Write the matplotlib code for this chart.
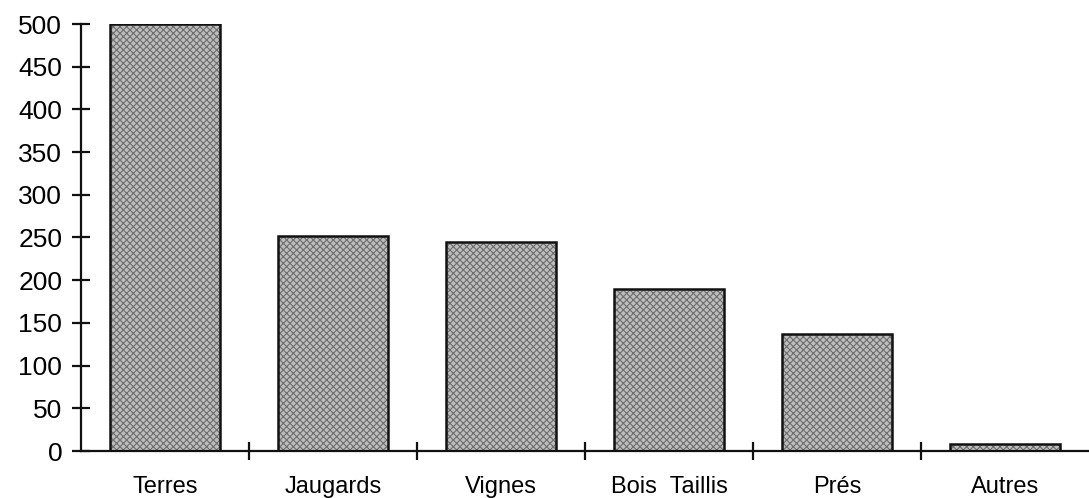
import numpy as np
import matplotlib.pyplot as plt

# surface par nature de culture
categories = ["Terres", "Jaugards", "Vignes", "Bois  Taillis", "Prés", "Autres"]
surfaces = [500, 252, 245, 190, 137, 8]
yticks = [0, 50, 100, 150, 200, 250, 300, 350, 400, 450, 500]

plt.rcParams['font.family'] = ['Liberation Sans', 'DejaVu Sans']
plt.rcParams['hatch.linewidth'] = 0.8

fig = plt.figure(figsize=(10.89, 4.98), dpi=100)
ax = fig.add_axes([81 / 1089, 1 - 451 / 498, 1 - 81 / 1089, (451 - 24) / 498])

x = np.arange(len(categories))
# tramage gris puis contour noir par-dessus
ax.bar(x, surfaces, width=0.65, color='#bdbdbd', edgecolor='#6e6e6e',
       linewidth=0, hatch='xxxxx', zorder=2)
ax.bar(x, surfaces, width=0.65, fill=False, edgecolor='#111111',
       linewidth=1.8, zorder=3)

ax.set_xlim(-0.5, len(categories) - 0.5)
ax.set_ylim(0, 500)

for side in ['top', 'right']:
    ax.spines[side].set_visible(False)
for side in ['left', 'bottom']:
    ax.spines[side].set_linewidth(1.6)
    ax.spines[side].set_color('#111111')

ax.set_yticks(yticks)
ax.tick_params(axis='y', direction='inout', length=13, width=1.6,
               labelsize=19, pad=7, color='#111111')

ax.set_xticks(x)
ax.set_xticklabels(categories)
ax.set_xticks(x[1:] - 0.5, minor=True)
ax.tick_params(axis='x', which='major', length=0, labelsize=17, pad=18)
ax.tick_params(axis='x', which='minor', direction='inout', length=13,
               width=1.6, color='#111111')

fig.savefig('out.png', dpi=100)
